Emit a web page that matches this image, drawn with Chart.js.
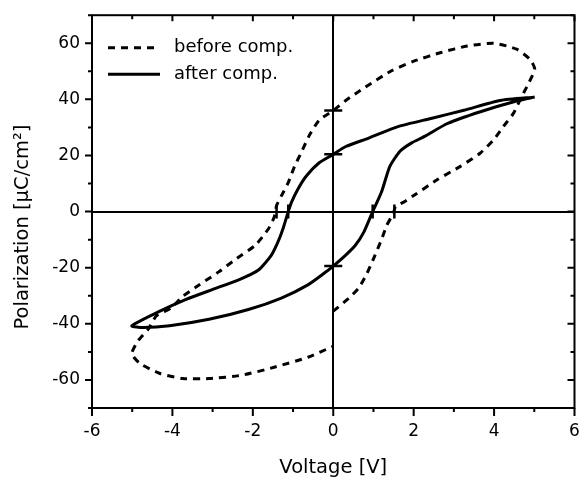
<!DOCTYPE html>
<html>
<head>
<meta charset="utf-8">
<script src="https://cdn.jsdelivr.net/npm/chart.js@4.4.1/dist/chart.umd.min.js"></script>
<style>
html, body { margin: 0; padding: 0; background: #ffffff; }
canvas { display: block; }
</style>
</head>
<body>
<canvas id="chart" width="586" height="483"></canvas>
<script>
// ---- data ----
const seriesLabels = ['before comp.', 'after comp.'];

// before compensation (dashed loop), voltage [V] and polarization [µC/cm²]
const beforeV = [0, 0.39, 0.63, 0.84, 1.04, 1.21, 1.33, 1.49, 1.55, 1.78,
  2.05, 2.6, 3.17, 3.66, 3.99, 4.23, 4.48, 4.68, 4.85,
  5.01, 4.89, 4.56, 3.99, 3.33, 2.68, 2.02, 1.45, 0.8, 0.31,
  0, -0.35, -0.59, -0.8, -0.96, -1.12, -1.29, -1.41, -1.47, -1.61,
  -1.94, -2.4, -2.84, -3.33, -3.74, -4.03, -4.4, -4.6, -4.85, -5.01,
  -4.8, -4.31, -3.74, -3.09, -2.27, -1.45, -0.63, 0];
const beforeP = [-35.5, -30.8, -27.3, -22.0, -15.5, -9.6, -4.9, -0.8, 1.8, 3.6,
  6.2, 11.5, 16.2, 20.9, 25.6, 30.3, 35.0, 40.8, 45.5,
  50.8, 54.3, 57.9, 60.0, 59.0, 56.7, 53.7, 50.2, 44.4, 39.6,
  36.0, 32.6, 27.3, 20.9, 16.2, 10.3, 5.6, 2.1, -2.0, -6.1,
  -12.0, -16.7, -21.4, -26.1, -30.2, -34.3, -37.2, -41.9, -46.0, -50.7,
  -54.2, -57.7, -59.5, -59.5, -58.3, -55.4, -51.9, -48.0];

// after compensation (solid loop)
const afterV = [5.01, 4.15, 3.25, 2.43, 1.61, 0.88, 0.31, 0, -0.35, -0.67,
  -0.88, -1.04, -1.12, -1.25, -1.38, -1.55, -1.86, -2.35, -3.01, -3.66,
  -4.31, -5.01, -4.72, -4.07, -3.09, -2.11, -1.29, -0.63, -0.23, 0,
  0.31, 0.55, 0.76, 0.98, 1.2, 1.41, 1.66, 1.94, 2.27, 2.84,
  3.66, 4.56, 5.01];
const afterP = [40.8, 39.6, 36.1, 33.2, 30.3, 26.2, 23.2, 20.4, 17.4, 12.7,
  8.0, 3.3, 0, -6.1, -11.0, -15.8, -20.8, -24.3, -27.8, -31.3,
  -35.5, -40.7, -41.3, -40.7, -38.4, -34.9, -30.8, -26.1, -22.0, -19.4,
  -15.5, -12.0, -7.3, 0, 7.0, 16.2, 21.5, 24.4, 26.8, 31.4,
  35.6, 39.4, 40.8];

// marks where the loops cross the axes
const remanentV = [0, 0, 0];
const remanentP = [36.0, 20.4, -19.4];
const coerciveV = [-1.41, -1.12, 0.98, 1.52];
const coerciveP = [0, 0, 0, 0];

// axes
const xRange = [-6, 6];
const yRange = [-70, 70];
const xTickValues = [-6, -4, -2, 0, 2, 4, 6];
const yTickValues = [-60, -40, -20, 0, 20, 40, 60];
const xMinorStep = 1;
const yMinorStep = 10;
const xTitle = 'Voltage [V]';
const yTitle = 'Polarization [µC/cm²]';

// ---- build ----
const toPoints = (xs, ys) => xs.map((v, i) => ({ x: v, y: ys[i] }));
const FONT = '"DejaVu Sans", "Liberation Sans", Arial, sans-serif';

const frameTicksLegend = {
  id: 'frameTicksLegend',
  afterDatasetsDraw(chart) {
    const { ctx, chartArea: a, scales } = chart;
    const x = scales.x, y = scales.y;
    ctx.save();
    ctx.strokeStyle = '#000';
    ctx.lineWidth = 2;
    ctx.setLineDash([]);
    ctx.strokeRect(a.left, a.top, a.right - a.left, a.bottom - a.top);
    ctx.beginPath();
    for (let v = x.min; v <= x.max + 1e-9; v += xMinorStep) {
      const px = x.getPixelForValue(v);
      const major = xTickValues.includes(v);
      ctx.moveTo(px, a.bottom); ctx.lineTo(px, a.bottom + (major ? 8 : 4));
      ctx.moveTo(px, a.top); ctx.lineTo(px, a.top + (major ? 6 : 4));
    }
    for (let v = y.min; v <= y.max + 1e-9; v += yMinorStep) {
      const py = y.getPixelForValue(v);
      const major = yTickValues.includes(v);
      ctx.moveTo(a.left, py); ctx.lineTo(a.left - (major ? 7 : 4), py);
      ctx.moveTo(a.right, py); ctx.lineTo(a.right - (major ? 7 : 4), py);
    }
    ctx.stroke();

    // legend (inside the plot, upper left)
    const rows = [47.7, 74.3];
    ctx.font = '18px ' + FONT;
    ctx.fillStyle = '#000';
    ctx.textBaseline = 'middle';
    ctx.textAlign = 'left';
    [0, 1].forEach((di, k) => {
      const ds = chart.data.datasets[di];
      const ly = rows[k];
      ctx.beginPath();
      ctx.lineWidth = ds.borderWidth;
      ctx.setLineDash(ds.borderDash || []);
      ctx.moveTo(a.left + 16, ly);
      ctx.lineTo(a.left + 68, ly);
      ctx.stroke();
      ctx.setLineDash([]);
      ctx.fillText(ds.label, a.left + 82, ly);
    });
    ctx.restore();
  }
};

const zeroLine = (c) => (c.tick && c.tick.value === 0 ? '#000' : 'rgba(0,0,0,0)');

new Chart(document.getElementById('chart'), {
  type: 'scatter',
  data: {
    datasets: [
      {
        label: seriesLabels[0],
        data: toPoints(beforeV, beforeP),
        showLine: true,
        borderColor: '#000',
        borderWidth: 3,
        borderDash: [7, 6],
        pointRadius: 0,
        tension: 0.2,
        fill: false,
        order: 2
      },
      {
        label: seriesLabels[1],
        data: toPoints(afterV, afterP),
        showLine: true,
        borderColor: '#000',
        borderWidth: 3,
        pointRadius: 0,
        tension: 0.2,
        fill: false,
        order: 1
      },
      {
        label: 'remanent',
        data: toPoints(remanentV, remanentP),
        showLine: false,
        pointStyle: 'line',
        pointRadius: 9,
        pointBorderWidth: 2.5,
        pointBorderColor: '#000',
        pointBackgroundColor: '#000',
        order: 0
      },
      {
        label: 'coercive',
        data: toPoints(coerciveV, coerciveP),
        showLine: false,
        pointStyle: 'line',
        pointRotation: 90,
        pointRadius: 7,
        pointBorderWidth: 2.5,
        pointBorderColor: '#000',
        pointBackgroundColor: '#000',
        order: 0
      }
    ]
  },
  options: {
    responsive: false,
    animation: false,
    devicePixelRatio: 1,
    layout: { padding: { top: 11, right: 4, left: 0, bottom: 0 } },
    plugins: {
      legend: { display: false },
      tooltip: { enabled: false }
    },
    scales: {
      x: {
        type: 'linear',
        min: xRange[0],
        max: xRange[1],
        afterBuildTicks: (s) => { s.ticks = xTickValues.map((v) => ({ value: v })); },
        afterFit: (s) => { s.height = 75; },
        border: { display: false },
        grid: {
          display: true,
          drawOnChartArea: true,
          drawTicks: true,
          tickLength: 8,
          tickColor: 'rgba(0,0,0,0)',
          color: zeroLine,
          lineWidth: 2
        },
        ticks: {
          padding: 5,
          color: '#000',
          font: { family: FONT, size: 17 },
          maxRotation: 0,
          autoSkip: false
        },
        title: {
          display: true,
          text: xTitle,
          color: '#000',
          font: { family: FONT, size: 19.5 },
          padding: { top: 0, bottom: 3 }
        }
      },
      y: {
        type: 'linear',
        min: yRange[0],
        max: yRange[1],
        afterBuildTicks: (s) => { s.ticks = yTickValues.map((v) => ({ value: v })); },
        afterFit: (s) => { s.width = 92; },
        border: { display: false },
        grid: {
          display: true,
          drawOnChartArea: true,
          drawTicks: true,
          tickLength: 7,
          tickColor: 'rgba(0,0,0,0)',
          color: zeroLine,
          lineWidth: 2
        },
        ticks: {
          padding: 5,
          color: '#000',
          font: { family: FONT, size: 17 },
          autoSkip: false
        },
        title: {
          display: true,
          text: yTitle + '     ',
          color: '#000',
          font: { family: FONT, size: 19.5 },
          padding: { top: 11, bottom: 0 }
        }
      }
    }
  },
  plugins: [frameTicksLegend]
});
</script>
</body>
</html>
